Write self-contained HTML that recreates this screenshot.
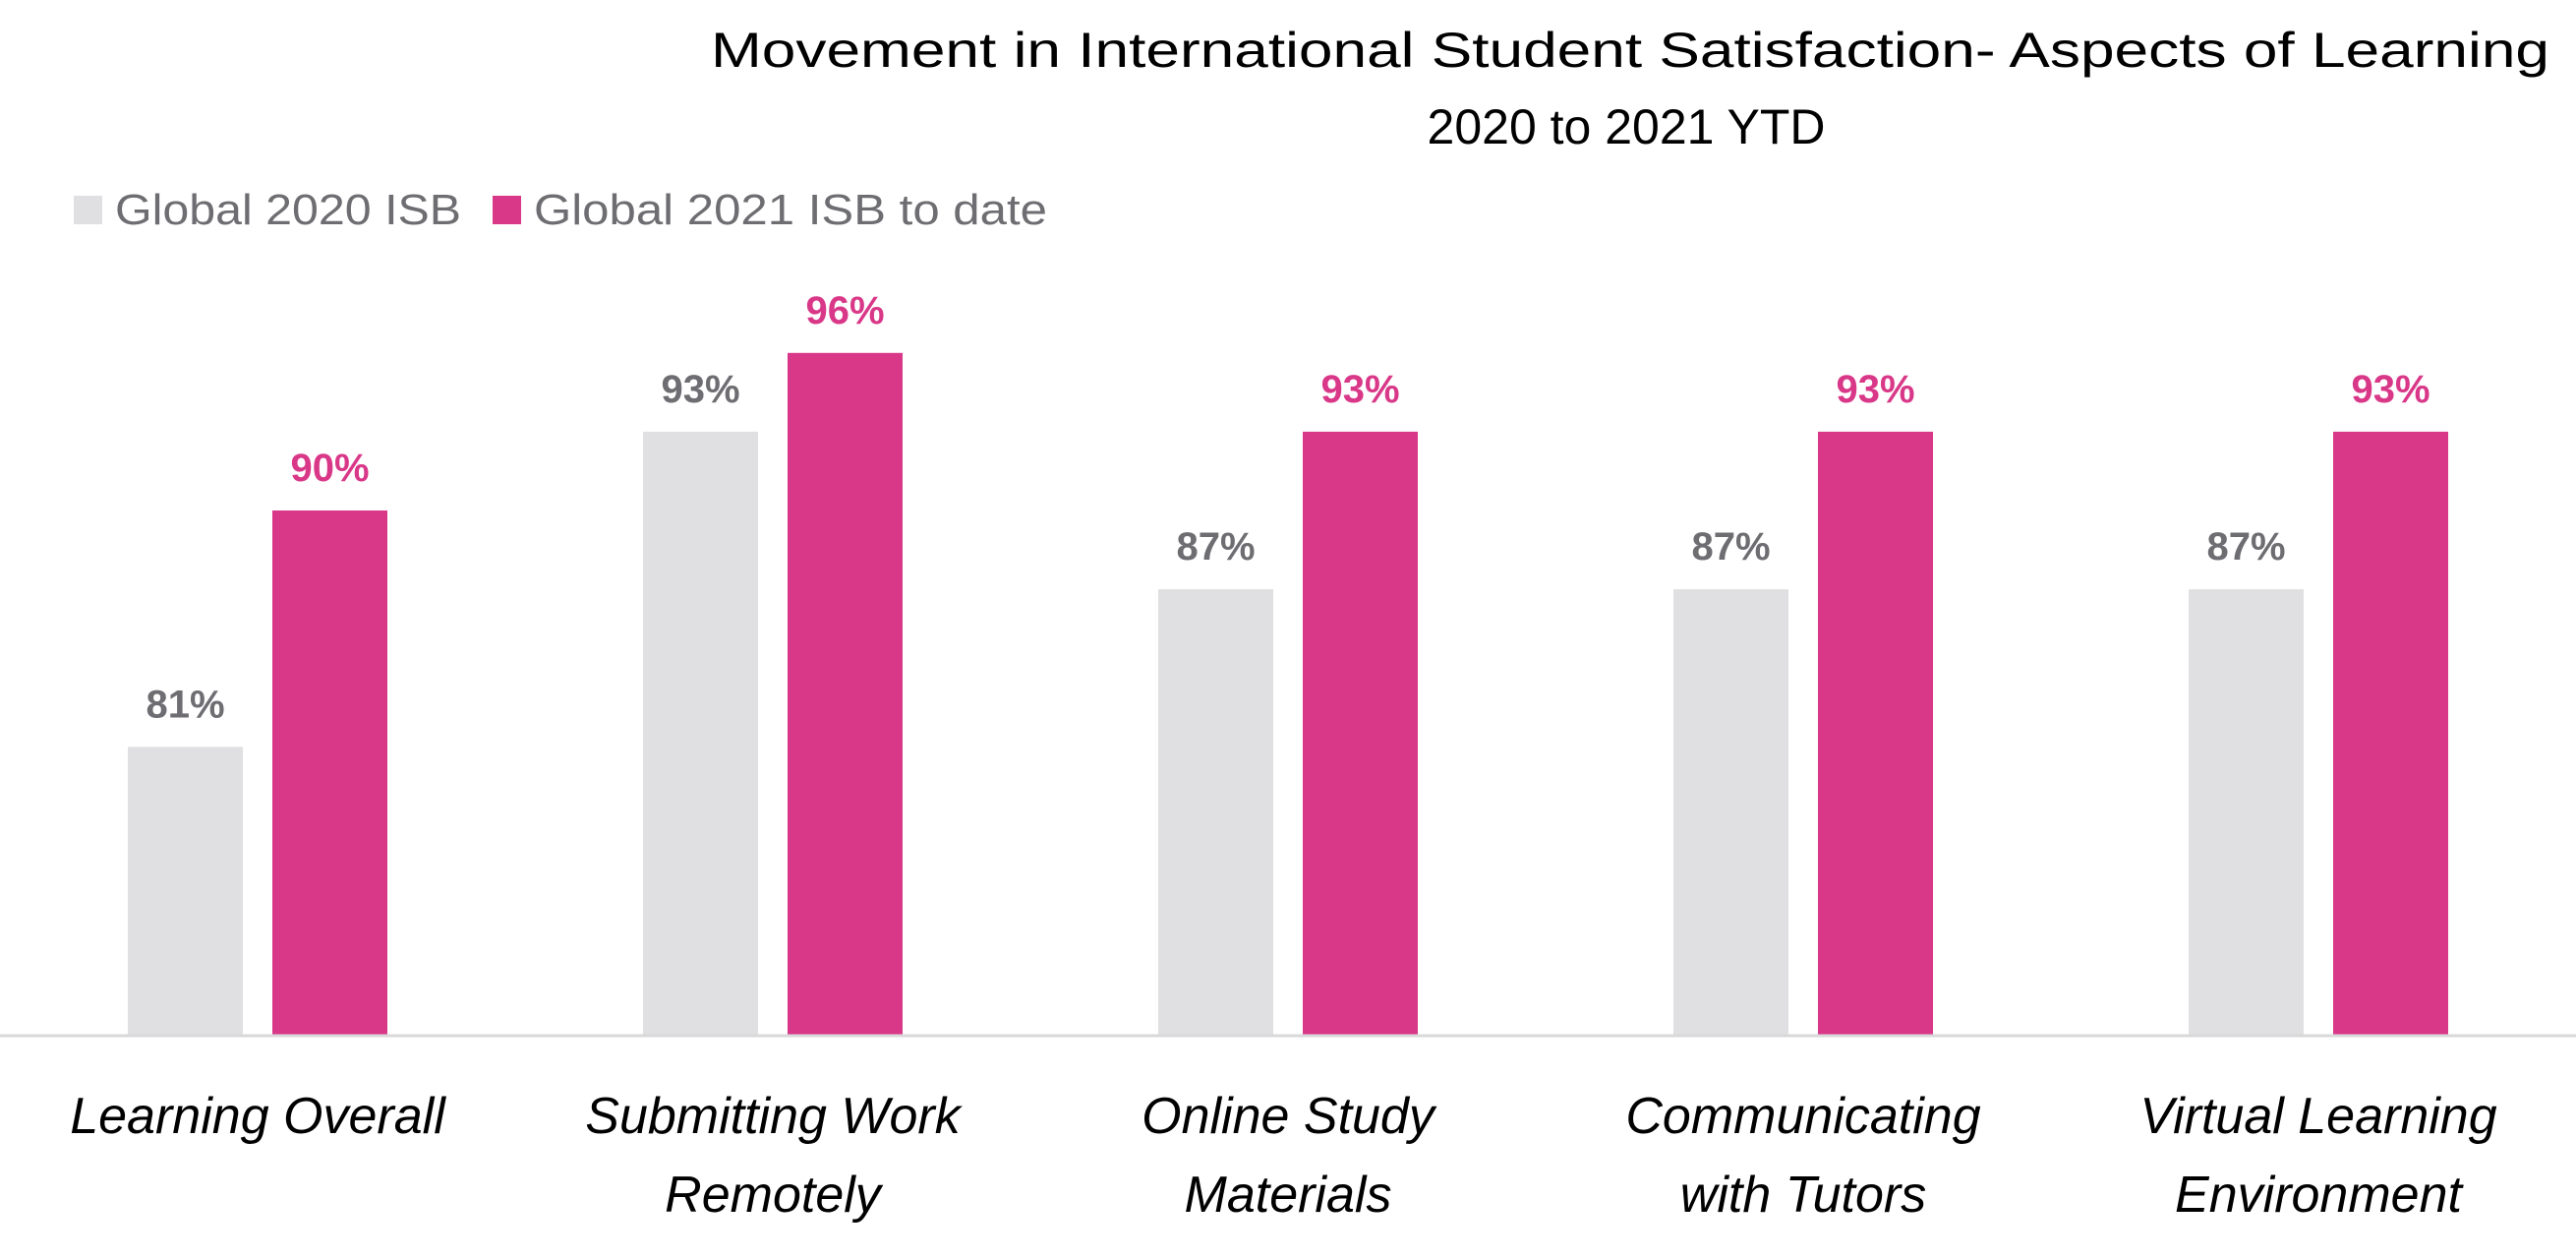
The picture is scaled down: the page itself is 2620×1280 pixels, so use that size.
<!DOCTYPE html>
<html><head><meta charset="utf-8"><style>
html,body{margin:0;padding:0;background:#fff;}
svg{display:block;font-family:"Liberation Sans",sans-serif;}
</style></head><body>
<svg id="chart" width="2620" height="1280" viewBox="0 0 2620 1280">
<text x="1658" y="68" font-size="50" text-anchor="middle" fill="#000" textLength="1870" lengthAdjust="spacingAndGlyphs">Movement in International Student Satisfaction- Aspects of Learning</text>
<text x="1654" y="146" font-size="50" text-anchor="middle" fill="#000">2020 to 2021 YTD</text>
<g>
<rect x="75" y="199" width="29" height="29" fill="#e0e0e2"/>
<text x="117" y="228" font-size="44" fill="#6d6d72" textLength="352" lengthAdjust="spacingAndGlyphs">Global 2020 ISB</text>
<rect x="501" y="199" width="29" height="29" fill="#d93888"/>
<text x="543" y="228" font-size="44" fill="#6d6d72" textLength="522" lengthAdjust="spacingAndGlyphs">Global 2021 ISB to date</text>
</g>
<g id="plot"></g>
<line x1="0" y1="1053" x2="2620" y2="1053" stroke="#d9d9d9" stroke-width="3"/>
</svg>
<script>
const categories = [["Learning Overall"],["Submitting Work","Remotely"],["Online Study","Materials"],["Communicating","with Tutors"],["Virtual Learning","Environment"]];
const values2020 = [81, 93, 87, 87, 87];
const values2021 = [90, 96, 93, 93, 93];
const ns = "http://www.w3.org/2000/svg";
const plot = document.getElementById("plot");
const baseY = 1053, yMin = 70, pxPer = 26.7, catW = 524, barW = 117;
function y(v){ return baseY - (v - yMin) * pxPer; }
function xc(i){ return catW * i + catW / 2; }
function mk(tag, attrs){ const e = document.createElementNS(ns, tag); for (const k in attrs) e.setAttribute(k, attrs[k]); plot.appendChild(e); return e; }
categories.forEach((c, i) => {
  const series = [[values2020, "#e0e0e2", "#6d6d72", -1], [values2021, "#d93888", "#d93888", 1]];
  series.forEach(([vals, fill, tc, side], s) => {
    const x = xc(i) + (side < 0 ? -barW - 15 : 15);
    const r = mk("rect", {x: x, y: y(vals[i]), width: barW, height: baseY - y(vals[i]), fill: fill});
    
    
    const t = mk("text", {x: x + barW / 2, y: y(vals[i]) - 30, "font-size": 40, "font-weight": "bold", "text-anchor": "middle", fill: tc});
    t.textContent = vals[i] + "%";
    
    
  });
  c.forEach((line, j) => {
    const t = mk("text", {x: xc(i), y: 1152 + j * 80, "font-size": 52, "font-style": "italic", "text-anchor": "middle", fill: "#000"});
    t.textContent = line;
    
    
  });
});
</script>
</body></html>
